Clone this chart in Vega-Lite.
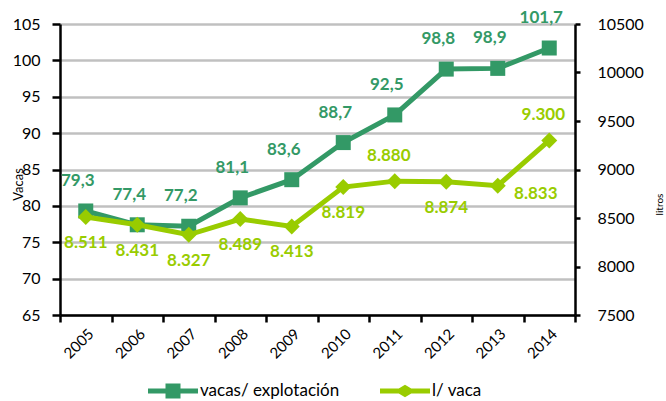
{
  "$schema": "https://vega.github.io/schema/vega-lite/v6.json",
  "autosize": "none",
  "padding": {"left": 60, "top": 24, "right": 91, "bottom": 86},
  "width": 515,
  "height": 291,
  "background": "white",
  "config": {
    "locale": {"number": {"decimal": ",", "thousands": ".", "grouping": [3], "currency": ["", "€"]}},
    "font": "Lato",
    "view": {"stroke": null},
    "axis": {"labelFont": "Lato", "titleFont": "Lato", "labelColor": "black", "domainColor": "black", "tickColor": "black", "domainWidth": 2.5, "tickWidth": 2.5, "labelFontSize": 16}
  },
  "data": {"values": [
    {"year": "2005", "vacas": 79.3, "litros": 8511},
    {"year": "2006", "vacas": 77.4, "litros": 8431},
    {"year": "2007", "vacas": 77.2, "litros": 8327},
    {"year": "2008", "vacas": 81.1, "litros": 8489},
    {"year": "2009", "vacas": 83.6, "litros": 8413},
    {"year": "2010", "vacas": 88.7, "litros": 8819},
    {"year": "2011", "vacas": 92.5, "litros": 8880},
    {"year": "2012", "vacas": 98.8, "litros": 8874},
    {"year": "2013", "vacas": 98.9, "litros": 8833},
    {"year": "2014", "vacas": 101.7, "litros": 9300}
  ]},
  "encoding": {
    "x": {"field": "year", "type": "ordinal", "title": null,
      "scale": {"type": "band", "paddingInner": 0, "paddingOuter": 0},
      "axis": {"tickBand": "extent", "labelAngle": -45, "tickSize": 7, "labelPadding": 4, "labelFontSize": 15, "grid": false}}
  },
  "layer": [
    {
      "encoding": {
        "y": {"field": "vacas", "type": "quantitative",
          "scale": {"domain": [65, 105], "nice": false, "zero": false},
          "axis": {"orient": "left", "values": [65,70,75,80,85,90,95,100,105], "format": "d", "tickSize": 8, "labelPadding": 12,
            "grid": true, "gridColor": "#c0c0c0", "gridWidth": 2.5,
            "title": "Vacas", "titleFontSize": 13, "titleFontWeight": "normal", "titleX": -35, "titleY": 160, "titleAngle": -90}}
      },
      "layer": [
        {"mark": {"type": "line", "color": "#339966", "strokeWidth": 5}},
        {"mark": {"type": "point", "shape": "square", "filled": true, "size": 225, "color": "#339966", "opacity": 1}},
        {"mark": {"type": "text", "color": "#339966", "fontWeight": "bold", "fontSize": 17, "dx": -8, "dy": -30},
          "encoding": {"text": {"field": "vacas", "type": "quantitative", "format": ",.1f"}}},
        {"mark": {"type": "point", "filled": true, "opacity": 0, "size": 2500},
          "encoding": {
            "color": {"field": "serie", "type": "nominal",
              "scale": {"domain": ["vacas/ explotación", "l/ vaca"], "range": ["#339966", "#99cc00"]},
              "legend": {"orient": "none", "direction": "horizontal", "legendX": 88, "legendY": 342, "title": null,
                "symbolOpacity": 1, "symbolStrokeWidth": 0, "labelFontSize": 17, "labelFont": "Lato", "labelColor": "black", "labelOffset": 2, "columnPadding": 40, "padding": 0, "symbolSize": 2500,
                "encode": {"symbols": {"update": {"opacity": {"value": 1}, "fillOpacity": {"value": 1}}}}}},
            "shape": {"field": "serie", "type": "nominal",
              "scale": {"domain": ["vacas/ explotación", "l/ vaca"], "range": ["M-1,-0.1H-0.3V-0.3H0.3V-0.1H1V0.1H0.3V0.3H-0.3V0.1H-1Z", "M-1,-0.1H-0.25L0,-0.25L0.25,-0.1H1V0.1H0.25L0,0.25L-0.25,0.1H-1Z"]}}
          },
          "transform": [{"calculate": "'vacas/ explotación'", "as": "serie"}]}
      ]
    },
    {
      "encoding": {
        "y": {"field": "litros", "type": "quantitative",
          "scale": {"domain": [7500, 10500], "nice": false, "zero": false},
          "axis": {"orient": "right", "values": [7500,8000,8500,9000,9500,10000,10500], "format": "d", "tickSize": 5, "labelPadding": 17, "grid": false,
            "title": "litros", "titleFontSize": 10, "titleFontWeight": "normal", "titleX": 89, "titleY": 180, "titleAngle": -90}}
      },
      "layer": [
        {"mark": {"type": "line", "color": "#99cc00", "strokeWidth": 5}},
        {"mark": {"type": "point", "shape": "diamond", "filled": true, "size": 256, "color": "#99cc00", "opacity": 1}},
        {"transform": [{"filter": "datum.year != '2011' && datum.year != '2013' && datum.year != '2014'"}],
          "mark": {"type": "text", "color": "#99cc00", "fontWeight": "bold", "fontSize": 17, "dy": 26},
          "encoding": {"text": {"field": "litros", "type": "quantitative", "format": ","}}},
        {"transform": [{"filter": "datum.year == '2011' || datum.year == '2014'"}],
          "mark": {"type": "text", "color": "#99cc00", "fontWeight": "bold", "fontSize": 17, "dx": -6, "dy": -25},
          "encoding": {"text": {"field": "litros", "type": "quantitative", "format": ","}}},
        {"transform": [{"filter": "datum.year == '2013'"}],
          "mark": {"type": "text", "color": "#99cc00", "fontWeight": "bold", "fontSize": 17, "dx": 38, "dy": 8},
          "encoding": {"text": {"field": "litros", "type": "quantitative", "format": ","}}}
      ]
    }
  ],
  "resolve": {"scale": {"y": "independent"}}
}
